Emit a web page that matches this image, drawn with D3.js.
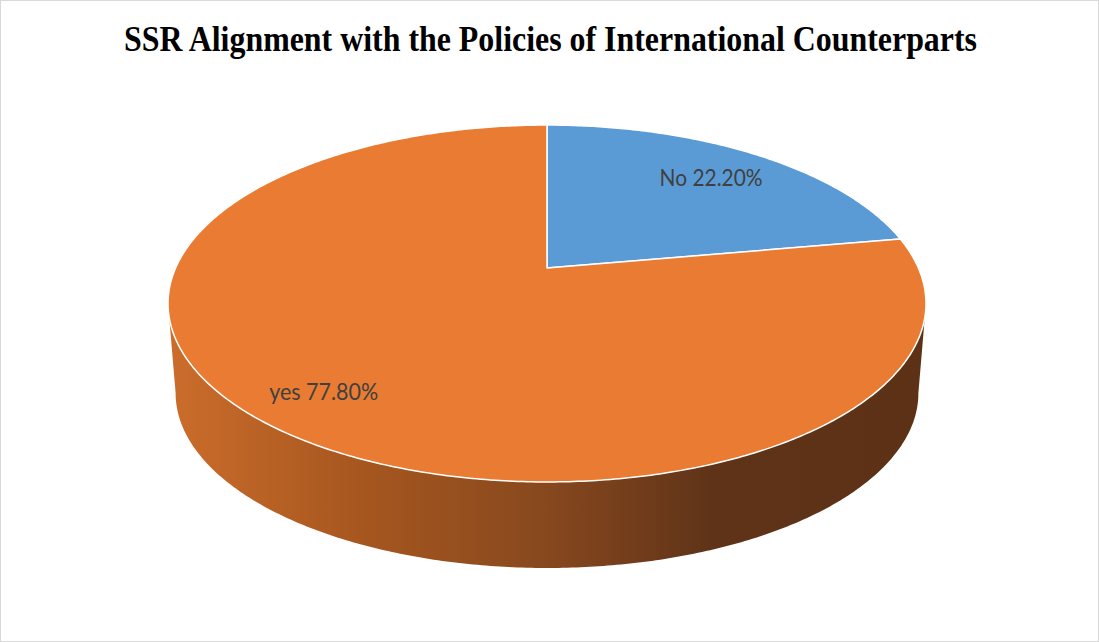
<!DOCTYPE html>
<html>
<head>
<meta charset="utf-8">
<script src="https://cdn.jsdelivr.net/npm/d3@7"></script>
<style>
  body { margin: 0; background: #fff; }
  svg { display: block; }
</style>
</head>
<body>
<script>
// chart values
var categories = ["No", "yes"];
var values = [22.2, 77.8];
var colors = ["#5b9bd5", "#e97c32"];
var chartTitle = "SSR Alignment with the Policies of International Counterparts";

var width = 1099,
    height = 642;

var svg = d3.select("body")
    .append("svg")
    .attr("width", width)
    .attr("height", height);

// chart frame
svg.append("rect")
    .attr("x", 0.5).attr("y", 0.5)
    .attr("width", width - 1).attr("height", height - 1)
    .attr("fill", "#fff")
    .attr("stroke", "#d9d9d9");

// title
svg.append("text")
    .attr("x", 124)
    .attr("y", 51)
    .attr("textLength", 853)
    .attr("lengthAdjust", "spacingAndGlyphs")
    .style("font-family", "'Liberation Serif', 'Times New Roman', serif")
    .style("font-weight", "bold")
    .style("font-size", "36px")
    .attr("fill", "#000")
    .text(chartTitle);

// perspective tilt of the disc: u right, v towards viewer
var cx = 547,
    k = -0.1989;
var topLvl = {a: 371.4, b: 171.4, y0: 268};
var botLvl = {a: 371.4 * 0.98, b: 171.4 * 0.98, y0: 358.3};

function project(theta, r, lvl) {
    var u = r * Math.sin(theta),
        v = -r * Math.cos(theta);
    var w = 1 + k * v;
    return [cx + lvl.a * u / w, lvl.y0 + lvl.b * v / w];
}

var pie = d3.pie().sort(null).value(function(d){ return d; });
var arcs = pie(values);

var line = d3.line();

function arcPoints(a0, a1, r, lvl) {
    var n = Math.max(2, Math.ceil(Math.abs(a1 - a0) / 0.01));
    var pts = [];
    for (var i = 0; i <= n; i++) {
        pts.push(project(a0 + (a1 - a0) * i / n, r, lvl));
    }
    return pts;
}

// side wall gradient
var defs = svg.append("defs");
var grad = defs.append("linearGradient")
    .attr("id", "sideGrad")
    .attr("gradientUnits", "userSpaceOnUse")
    .attr("x1", 168).attr("x2", 926)
    .attr("y1", 0).attr("y2", 0);
[[0, "#cb6d2c"], [0.25, "#a7571f"], [0.5, "#87481e"], [0.72, "#5f3318"], [1, "#5c3115"]]
    .forEach(function(s){
        grad.append("stop").attr("offset", s[0]).attr("stop-color", s[1]);
    });

// visible part of the outer wall lies between the silhouette angles
var visStart = Math.acos(k),
    visEnd = 2 * Math.PI - Math.acos(k);

arcs.forEach(function(d){
    var a0 = Math.max(d.startAngle, visStart),
        a1 = Math.min(d.endAngle, visEnd);
    if (a1 <= a0) return;
    var pts = arcPoints(a0, a1, 1, topLvl)
        .concat(arcPoints(a1, a0, 1, botLvl));
    svg.append("path")
        .attr("d", line(pts) + "Z")
        .attr("fill", d.index === 1 ? "url(#sideGrad)" : d3.color(colors[d.index]).darker(1.5));
});

// top faces
svg.selectAll(".slice")
    .data(arcs)
    .enter()
    .append("path")
    .attr("class", "slice")
    .attr("d", function(d){
        var pts = [project(0, 0, topLvl)].concat(arcPoints(d.startAngle, d.endAngle, 1, topLvl));
        return line(pts) + "Z";
    })
    .attr("fill", function(d){ return colors[d.index]; })
    .attr("stroke", "#fff")
    .attr("stroke-width", 1.5)
    .attr("stroke-linejoin", "round");

// data labels
svg.selectAll(".lbl")
    .data(arcs)
    .enter()
    .append("text")
    .attr("class", "lbl")
    .attr("x", function(d){ return project((d.startAngle + d.endAngle) / 2, 0.8, topLvl)[0] - 6; })
    .attr("y", function(d){ return project((d.startAngle + d.endAngle) / 2, 0.8, topLvl)[1]; })
    .attr("text-anchor", "middle")
    .attr("dy", "0.5em")
    .attr("textLength", function(d){ return d.index === 0 ? 103 : 109; })
    .attr("lengthAdjust", "spacingAndGlyphs")
    .style("font-family", "Lato, 'Open Sans', sans-serif")
    .style("font-size", "24px")
    .attr("fill", "#404040")
    .text(function(d){ return categories[d.index] + " " + d.data.toFixed(2) + "%"; });
</script>
</body>
</html>
